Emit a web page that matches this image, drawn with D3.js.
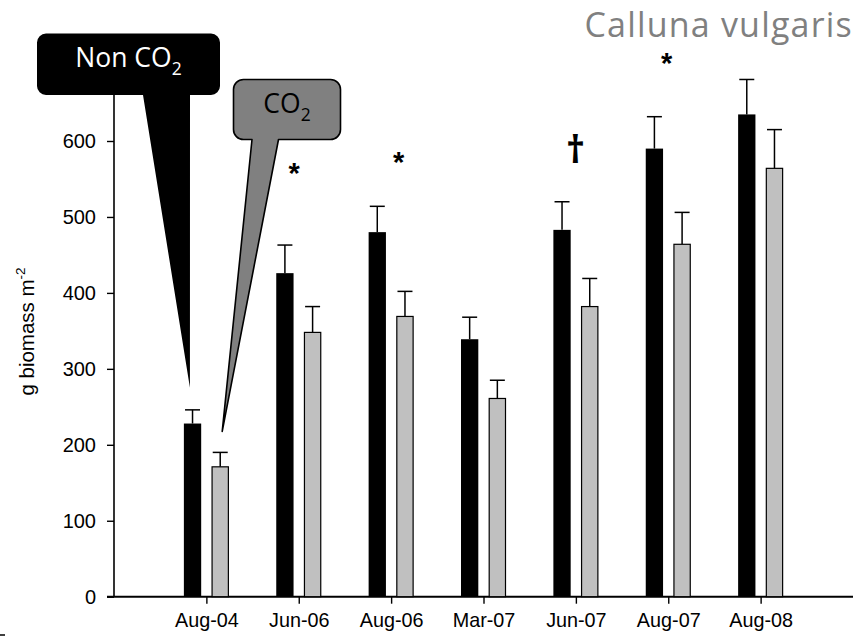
<!DOCTYPE html>
<html>
<head>
<meta charset="utf-8">
<script src="https://cdn.jsdelivr.net/npm/d3@7"></script>
<style>
  html, body { margin: 0; padding: 0; background: #fff; }
  svg { display: block; }
</style>
</head>
<body>
<div id="chart"></div>
<script>
// ---- Data ----
const categories = ["Aug-04", "Jun-06", "Aug-06", "Mar-07", "Jun-07", "Aug-07", "Aug-08"];
const nonCO2     = [228, 426, 480, 339, 483, 590, 635];
const nonCO2Err  = [18, 37, 34, 29, 37, 42, 46];
const co2        = [171, 348, 369, 261, 382, 464, 564];
const co2Err     = [19, 34, 33, 24, 37, 42, 51];
const yTicks     = [0, 100, 200, 300, 400, 500, 600];
const sigLabels  = ["", "*", "*", "", "\u2020", "*", ""];
const sigLevel   = [0, 566, 581, 0, 585, 711, 0];
const sigShift   = [0, -4.7, 7.5, 0, -0.3, -1.7, 0];
const seriesNames = ["Non CO", "CO"];

const W = 857, H = 639;
const svg = d3.select("#chart").append("svg").attr("width", W).attr("height", H);

const x = d3.scaleLinear().domain([0, 8]).range([114, 853]);
const y = d3.scaleLinear().domain([0, 700]).range([596.7, 596.7 - 700 * 0.7595]);
const inner = d3.scaleBand().domain(["non", "co2"]).range([-22.5, 22.5]).paddingInner(0.375);

const axisFont = "'Liberation Sans', Arial, sans-serif";
const calFont = "'Open Sans', 'Noto Sans', sans-serif";

// ---- Axes ----
const yAxis = d3.axisLeft(y).tickValues(yTicks).tickSize(7).tickPadding(11).tickFormat(d3.format("d"));
const gy = svg.append("g").attr("transform", `translate(${x(0)},0)`).call(yAxis);
gy.select(".domain").attr("stroke", "#000").attr("stroke-width", 1.6)
  .attr("d", `M0,${y(700)}V${y(0)}`);
gy.selectAll(".tick line").attr("stroke", "#000").attr("stroke-width", 1.4);
gy.selectAll(".tick text").attr("font-family", axisFont).attr("font-size", 20).attr("fill", "#000");

const xAxis = d3.axisBottom(x).tickValues(d3.range(1, 8)).tickSize(7).tickPadding(9)
  .tickFormat(d => categories[d - 1]);
const gx = svg.append("g").attr("transform", `translate(0,${y(0)})`).call(xAxis);
gx.select(".domain").attr("stroke", "#000").attr("stroke-width", 2)
  .attr("d", `M${x(0) - 7},0H${x(8)}`);
gx.selectAll(".tick line").attr("stroke", "#000").attr("stroke-width", 1.4);
gx.selectAll(".tick text").attr("font-family", axisFont).attr("font-size", 19.8).attr("fill", "#000");

// y label
const yl = svg.append("text")
  .attr("transform", `translate(34,331.5) rotate(-90)`)
  .attr("text-anchor", "middle")
  .attr("font-family", axisFont).attr("font-size", 20.5).attr("fill", "#000");
yl.append("tspan").text("g biomass m");
yl.append("tspan").attr("font-size", 13.5).attr("dy", -9).text("-2");

// ---- Bars ----
const rows = categories.map((c, i) => ({ i, c, non: nonCO2[i], nonE: nonCO2Err[i], co: co2[i], coE: co2Err[i] }));

function errBars(cls, key, errKey, sub) {
  const g = svg.append("g").attr("class", cls);
  g.selectAll("line.v").data(rows).join("line")
    .attr("x1", d => x(d.i + 1) + inner(sub) + inner.bandwidth() / 2)
    .attr("x2", d => x(d.i + 1) + inner(sub) + inner.bandwidth() / 2)
    .attr("y1", d => y(d[key])).attr("y2", d => y(d[key] + d[errKey]))
    .attr("stroke", "#000").attr("stroke-width", 1.5);
  g.selectAll("line.c").data(rows).join("line")
    .attr("x1", d => x(d.i + 1) + inner(sub) + inner.bandwidth() / 2 - 7.5)
    .attr("x2", d => x(d.i + 1) + inner(sub) + inner.bandwidth() / 2 + 7.5)
    .attr("y1", d => y(d[key] + d[errKey])).attr("y2", d => y(d[key] + d[errKey]))
    .attr("stroke", "#000").attr("stroke-width", 1.5);
}
errBars("err-non", "non", "nonE", "non");
errBars("err-co2", "co", "coE", "co2");

svg.append("g").selectAll("rect").data(rows).join("rect")
  .attr("x", d => x(d.i + 1) + inner("non"))
  .attr("width", inner.bandwidth())
  .attr("y", d => y(d.non)).attr("height", d => y(0) - y(d.non))
  .attr("fill", "#000");

svg.append("g").selectAll("rect").data(rows).join("rect")
  .attr("x", d => x(d.i + 1) + inner("co2") + 0.5)
  .attr("width", inner.bandwidth() - 1)
  .attr("y", d => y(d.co)).attr("height", d => y(0) - y(d.co))
  .attr("fill", "#c0c0c0").attr("stroke", "#000").attr("stroke-width", 1.2);

// ---- significance markers ----
const isStar = d => sigLabels[d.i] === "*";
svg.append("g").selectAll("text").data(rows.filter(d => sigLabels[d.i])).join("text")
  .attr("x", d => x(d.i + 1) + sigShift[d.i])
  .attr("y", d => y(sigLevel[d.i]))
  .attr("dy", d => isStar(d) ? 16.5 : 11)
  .attr("text-anchor", "middle")
  .attr("font-family", d => isStar(d) ? axisFont : calFont).attr("font-weight", "bold")
  .attr("font-size", d => isStar(d) ? 29 : 37)
  .attr("fill", "#000")
  .text(d => sigLabels[d.i]);

// ---- title ----
svg.append("text").attr("x", 853).attr("y", 37).attr("text-anchor", "end")
  .attr("font-family", calFont).attr("font-size", 34).attr("letter-spacing", 1.2).attr("fill", "#808080")
  .text("Calluna vulgaris");

// ---- callouts ----
function callout(x0, y0, x1, y1, r, pL, pR, tx, ty) {
  return `M${x0 + r},${y0}H${x1 - r}A${r},${r} 0 0 1 ${x1},${y0 + r}V${y1 - r}` +
         `A${r},${r} 0 0 1 ${x1 - r},${y1}H${pR}L${tx},${ty}L${pL},${y1}H${x0 + r}` +
         `A${r},${r} 0 0 1 ${x0},${y1 - r}V${y0 + r}A${r},${r} 0 0 1 ${x0 + r},${y0}Z`;
}
const r0 = rows[0];
const tipNonX = x(r0.i + 1) + inner("non") + inner.bandwidth() / 2 - 2.6;
const tipNonY = y(r0.non + r0.nonE) - 22;
const tipCoX = x(r0.i + 1) + inner("co2") + inner.bandwidth() / 2 + 2;
const tipCoY = y(r0.co + r0.coE) - 21;

svg.append("path")
  .attr("d", callout(37, 33.5, 220, 95, 9, 143, 190, tipNonX, tipNonY))
  .attr("fill", "#000");
svg.append("path")
  .attr("d", callout(233.5, 79.5, 340.5, 139.5, 10, 252, 278.5, tipCoX, tipCoY))
  .attr("fill", "#808080").attr("stroke", "#000").attr("stroke-width", 1.6).attr("stroke-linejoin", "round");

function label(cx, by, col, name) {
  const t = svg.append("text").attr("x", cx).attr("y", by).attr("text-anchor", "middle")
    .attr("font-family", calFont).attr("font-size", 26.5).attr("fill", col);
  t.append("tspan").text(name);
  t.append("tspan").attr("font-size", 17.5).attr("dy", 8).text("2");
}
label(128.5, 66.7, "#fff", seriesNames[0]);
label(287, 112.7, "#000", seriesNames[1]);

// small stray mark bottom-left
svg.append("line").attr("x1", 0).attr("x2", 5).attr("y1", 635).attr("y2", 635)
  .attr("stroke", "#000").attr("stroke-width", 1.5);
</script>
</body>
</html>
